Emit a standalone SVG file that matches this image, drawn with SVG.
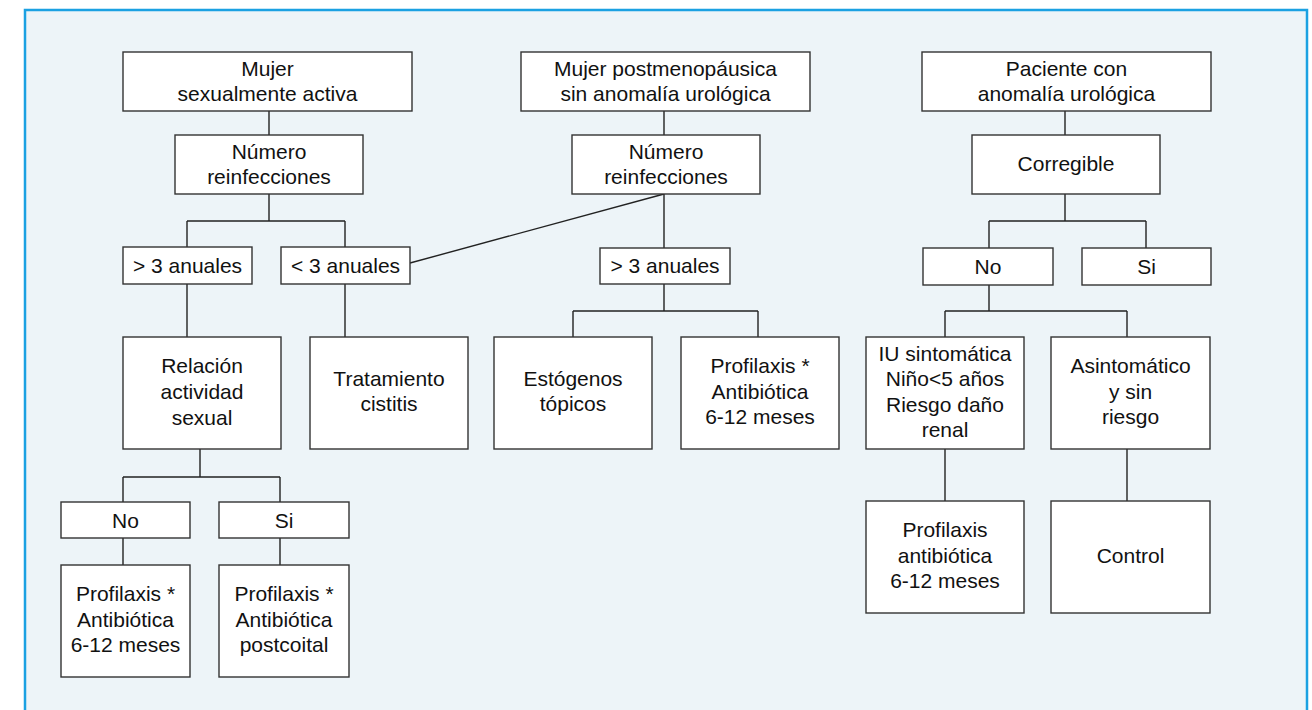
<svg xmlns="http://www.w3.org/2000/svg" width="1312" height="710" viewBox="0 0 1312 710">
  <style>
    .frame { fill: #edf4f8; stroke: #1ba1e2; stroke-width: 2.5; }
    .box { fill: #ffffff; stroke: #333333; stroke-width: 1.4; }
    .link { fill: none; stroke: #222222; stroke-width: 1.4; }
    text { font-family: "Liberation Sans", Arial, sans-serif; font-size: 21px; fill: #111111; text-anchor: middle; }
  </style>

  <!-- panel -->
  <rect class="frame" x="25" y="10" width="1282" height="720"/>

  <!-- connectors -->
  <g id="connectors">
    <!-- left column -->
    <path class="link" d="M269 111V135"/>
    <path class="link" d="M269 194V221M187 221H345M187 221V247M345 221V247"/>
    <path class="link" d="M187 284V337"/>
    <path class="link" d="M345 284V337"/>
    <path class="link" d="M200 449V477M123 477H280M123 477V502M280 477V502"/>
    <path class="link" d="M123 538V565"/>
    <path class="link" d="M280 538V565"/>
    <!-- middle column -->
    <path class="link" d="M664 111V135"/>
    <path class="link" d="M664 194L410 263"/>
    <path class="link" d="M664 194V248"/>
    <path class="link" d="M664 284V311M573 311H758M573 311V337M758 311V337"/>
    <!-- right column -->
    <path class="link" d="M1065 111V135"/>
    <path class="link" d="M1065 194V221M989 221H1146M989 221V248M1146 221V248"/>
    <path class="link" d="M989 285V311M945 311H1127M945 311V337M1127 311V337"/>
    <path class="link" d="M945 449V501"/>
    <path class="link" d="M1127 449V501"/>
  </g>

  <!-- left column nodes -->
  <g id="n-mujer-activa">
    <rect class="box" x="123" y="52" width="289" height="59"/>
    <text x="267.5" y="76">Mujer</text>
    <text x="267.5" y="101">sexualmente activa</text>
  </g>
  <g id="n-reinf-1">
    <rect class="box" x="175" y="135" width="188" height="59"/>
    <text x="269" y="159">Número</text>
    <text x="269" y="184">reinfecciones</text>
  </g>
  <g id="n-mas3-1">
    <rect class="box" x="123" y="247" width="129" height="37"/>
    <text x="187.5" y="273">&gt; 3 anuales</text>
  </g>
  <g id="n-menos3">
    <rect class="box" x="281" y="247" width="129" height="37"/>
    <text x="345.5" y="273">&lt; 3 anuales</text>
  </g>
  <g id="n-relacion">
    <rect class="box" x="123" y="337" width="158" height="112"/>
    <text x="202" y="373">Relación</text>
    <text x="202" y="399">actividad</text>
    <text x="202" y="425">sexual</text>
  </g>
  <g id="n-tratamiento">
    <rect class="box" x="310" y="337" width="158" height="112"/>
    <text x="389" y="386">Tratamiento</text>
    <text x="389" y="411">cistitis</text>
  </g>
  <g id="n-no-1">
    <rect class="box" x="61" y="502" width="129" height="36"/>
    <text x="125.5" y="528">No</text>
  </g>
  <g id="n-si-1">
    <rect class="box" x="219" y="502" width="130" height="36"/>
    <text x="284" y="528">Si</text>
  </g>
  <g id="n-profilaxis-1">
    <rect class="box" x="61" y="565" width="129" height="112"/>
    <text x="125.5" y="601">Profilaxis *</text>
    <text x="125.5" y="627">Antibiótica</text>
    <text x="125.5" y="652">6-12 meses</text>
  </g>
  <g id="n-profilaxis-2">
    <rect class="box" x="219" y="565" width="130" height="112"/>
    <text x="284" y="601">Profilaxis *</text>
    <text x="284" y="627">Antibiótica</text>
    <text x="284" y="652">postcoital</text>
  </g>

  <!-- middle column nodes -->
  <g id="n-postmeno">
    <rect class="box" x="521" y="52" width="289" height="59"/>
    <text x="665.5" y="76">Mujer postmenopáusica</text>
    <text x="665.5" y="101">sin anomalía urológica</text>
  </g>
  <g id="n-reinf-2">
    <rect class="box" x="572" y="135" width="188" height="59"/>
    <text x="666" y="159">Número</text>
    <text x="666" y="184">reinfecciones</text>
  </g>
  <g id="n-mas3-2">
    <rect class="box" x="600" y="248" width="130" height="36"/>
    <text x="665" y="273">&gt; 3 anuales</text>
  </g>
  <g id="n-estogenos">
    <rect class="box" x="494" y="337" width="158" height="112"/>
    <text x="573" y="386">Estógenos</text>
    <text x="573" y="411">tópicos</text>
  </g>
  <g id="n-profilaxis-3">
    <rect class="box" x="681" y="337" width="158" height="112"/>
    <text x="760" y="373">Profilaxis *</text>
    <text x="760" y="399">Antibiótica</text>
    <text x="760" y="424">6-12 meses</text>
  </g>

  <!-- right column nodes -->
  <g id="n-paciente">
    <rect class="box" x="922" y="52" width="289" height="59"/>
    <text x="1066.5" y="76">Paciente con</text>
    <text x="1066.5" y="101">anomalía urológica</text>
  </g>
  <g id="n-corregible">
    <rect class="box" x="972" y="135" width="188" height="59"/>
    <text x="1066" y="171">Corregible</text>
  </g>
  <g id="n-no-2">
    <rect class="box" x="923" y="248" width="130" height="37"/>
    <text x="988" y="274">No</text>
  </g>
  <g id="n-si-2">
    <rect class="box" x="1082" y="248" width="129" height="37"/>
    <text x="1146.5" y="274">Si</text>
  </g>
  <g id="n-iu">
    <rect class="box" x="866" y="337" width="158" height="112"/>
    <text x="945" y="361">IU sintomática</text>
    <text x="945" y="386">Niño&lt;5 años</text>
    <text x="945" y="412">Riesgo daño</text>
    <text x="945" y="437">renal</text>
  </g>
  <g id="n-asintomatico">
    <rect class="box" x="1051" y="337" width="159" height="112"/>
    <text x="1130.5" y="373">Asintomático</text>
    <text x="1130.5" y="399">y sin</text>
    <text x="1130.5" y="424">riesgo</text>
  </g>
  <g id="n-profilaxis-4">
    <rect class="box" x="866" y="501" width="158" height="112"/>
    <text x="945" y="537">Profilaxis</text>
    <text x="945" y="563">antibiótica</text>
    <text x="945" y="588">6-12 meses</text>
  </g>
  <g id="n-control">
    <rect class="box" x="1051" y="501" width="159" height="112"/>
    <text x="1130.5" y="563">Control</text>
  </g>
</svg>
